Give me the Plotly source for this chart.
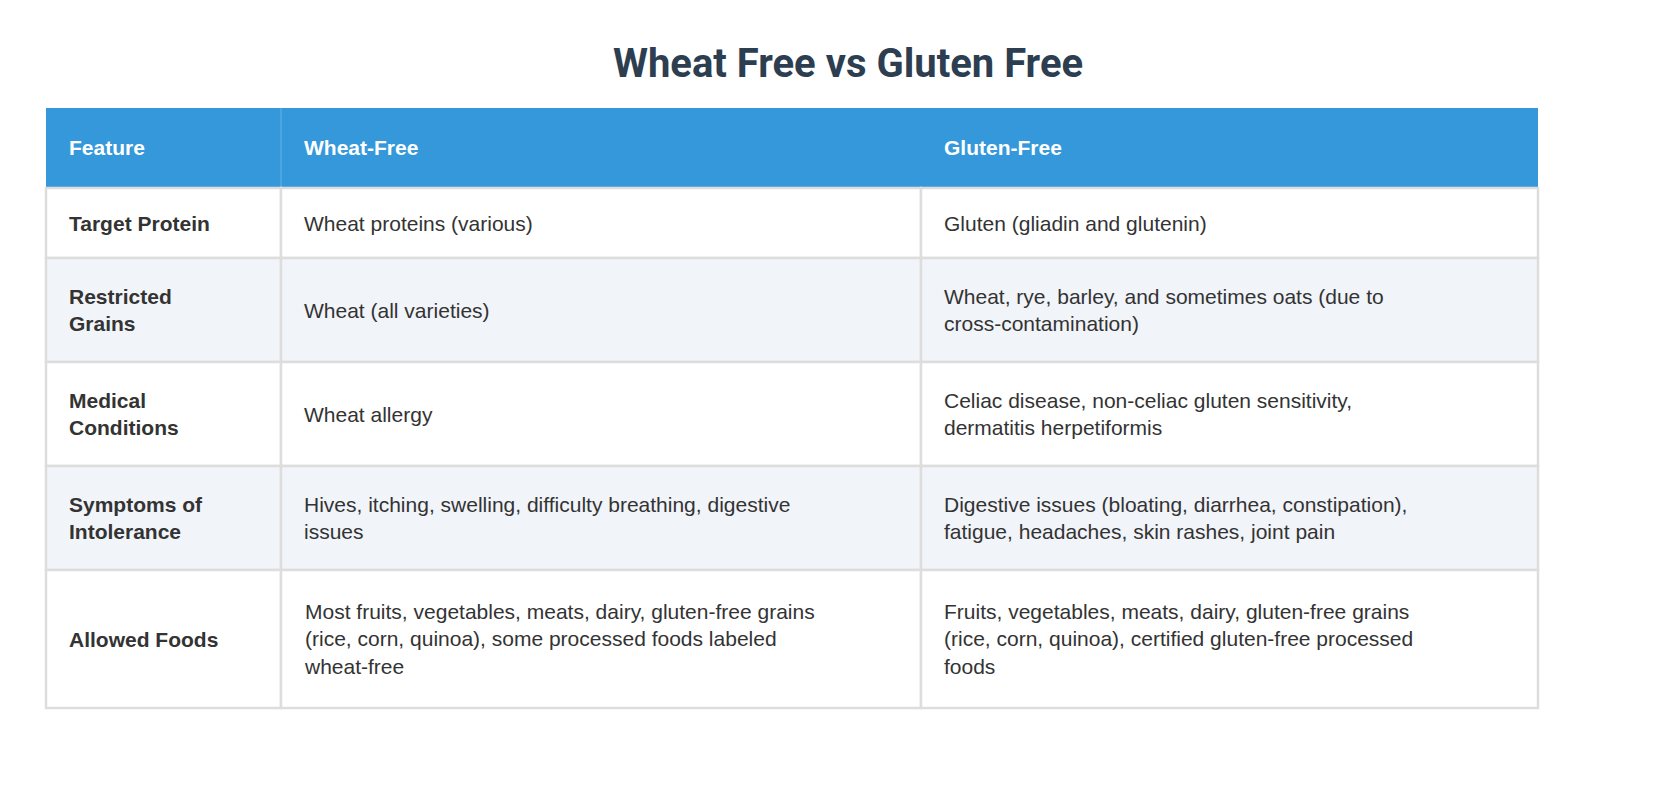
import plotly.graph_objects as go

headers = ["Feature", "Wheat-Free", "Gluten-Free"]
features = [
    "Target Protein",
    "Restricted<br>Grains",
    "Medical<br>Conditions",
    "Symptoms of<br>Intolerance",
    "Allowed Foods",
]
wheat_free = [
    "Wheat proteins (various)",
    "Wheat (all varieties)",
    "Wheat allergy",
    "Hives, itching, swelling, difficulty breathing, digestive<br>issues",
    "Most fruits, vegetables, meats, dairy, gluten-free grains<br>(rice, corn, quinoa), some processed foods labeled<br>wheat-free",
]
gluten_free = [
    "Gluten (gliadin and glutenin)",
    "Wheat, rye, barley, and sometimes oats (due to<br>cross-contamination)",
    "Celiac disease, non-celiac gluten sensitivity,<br>dermatitis herpetiformis",
    "Digestive issues (bloating, diarrhea, constipation),<br>fatigue, headaches, skin rashes, joint pain",
    "Fruits, vegetables, meats, dairy, gluten-free grains<br>(rice, corn, quinoa), certified gluten-free processed<br>foods",
]

W, H = 1680, 808
COL_EDGES = [38, 273, 913, 1530]
HEADER_TOP, HEADER_H = 100, 79
TEXT_PAD = 21
BODY_FONT = {"family": "Arial, Liberation Sans", "size": 21, "color": "#333333"}


def px(x):
    return x / W


def py(y):
    return 1 - y / H


fig = go.Figure()
fig.update_xaxes(visible=False)
fig.update_yaxes(visible=False)

# header band
fig.add_shape(type="rect", xref="paper", yref="paper",
              x0=px(COL_EDGES[0]), x1=px(COL_EDGES[-1]),
              y0=py(HEADER_TOP), y1=py(HEADER_TOP + HEADER_H),
              fillcolor="#3498db", line_width=0, layer="below")
fig.add_shape(type="line", xref="paper", yref="paper",
              x0=px(COL_EDGES[1]), x1=px(COL_EDGES[1]),
              y0=py(HEADER_TOP), y1=py(HEADER_TOP + HEADER_H),
              line={"color": "rgba(255,255,255,0.25)", "width": 1})
for i, h in enumerate(headers):
    fig.add_annotation(xref="paper", yref="paper",
                       x=px(COL_EDGES[i] + TEXT_PAD), y=py(HEADER_TOP + HEADER_H / 2),
                       xanchor="left", yanchor="middle", showarrow=False,
                       text=f"<b>{h}</b>",
                       font={"family": "Arial, Liberation Sans", "size": 21, "color": "white"})

# body rows
top = HEADER_TOP + HEADER_H + 1
for r, cells in enumerate(zip(features, wheat_free, gluten_free)):
    lines = max(c.count("<br>") + 1 for c in cells)
    row_h = 36 + 34 * lines
    fill = "#ffffff" if r % 2 == 0 else "#f1f4f9"
    for c, text in enumerate(cells):
        fig.add_shape(type="rect", xref="paper", yref="paper",
                      x0=px(COL_EDGES[c]), x1=px(COL_EDGES[c + 1]),
                      y0=py(top), y1=py(top + row_h),
                      fillcolor=fill, line={"color": "#dddddd", "width": 2.5},
                      layer="below")
        fig.add_annotation(xref="paper", yref="paper",
                           x=px(COL_EDGES[c] + TEXT_PAD), y=py(top + row_h / 2),
                           xanchor="left", yanchor="middle", align="left",
                           showarrow=False,
                           text=f"<b>{text}</b>" if c == 0 else text,
                           font=BODY_FONT)
    top += row_h

fig.update_layout(
    title={
        "text": "<b>Wheat Free vs Gluten Free</b>",
        "x": 0.5,
        "y": py(55),
        "yanchor": "middle",
        "font": {"family": "Roboto, Arial", "size": 40, "color": "#2c3e50"},
    },
    width=W,
    height=H,
    margin={"l": 0, "r": 0, "t": 0, "b": 0},
    paper_bgcolor="white",
    plot_bgcolor="white",
)
fig.write_html("out.html")
